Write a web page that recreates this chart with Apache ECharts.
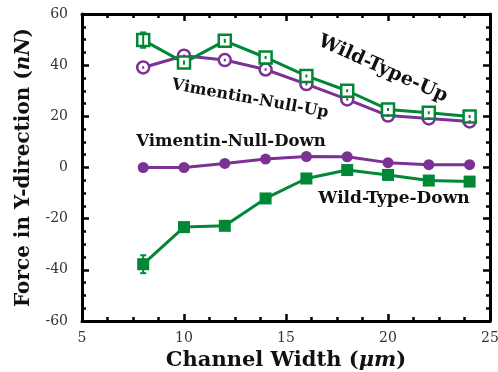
<!DOCTYPE html>
<html>
<head>
<meta charset="utf-8">
<script src="https://cdn.jsdelivr.net/npm/echarts@6/dist/echarts.min.js"></script>
<style>
  html, body { margin: 0; padding: 0; background: #fff; }
  #main { width: 498px; height: 372px; }
</style>
</head>
<body>
<div id="main"></div>
<script>
// channel widths (um)
var widths = [8, 10, 12, 14, 16, 18, 20, 22, 24];
// forces (nN)
var wildTypeUp = [49.8, 41.0, 49.5, 43.0, 35.8, 30.0, 22.7, 21.4, 19.9];
var wildTypeUpErr = [3.0, 0.8, 0.8, 0.6, 0.6, 0.6, 0.6, 0.6, 0.6];
var vimNullUp = [39.1, 43.7, 42.0, 38.3, 32.6, 26.6, 20.3, 19.2, 18.0];
var vimNullUpErr = [0.5, 0.5, 0.5, 0.5, 0.5, 0.5, 0.5, 0.5, 0.5];
var vimNullDown = [0.0, 0.0, 1.6, 3.3, 4.3, 4.2, 1.9, 1.1, 1.1];
var wildTypeDown = [-37.8, -23.3, -22.8, -12.1, -4.3, -1.0, -2.9, -5.1, -5.5];
var wildTypeDownErr = [3.5, 0.6, 0.6, 0.6, 0.5, 0.5, 0.5, 0.5, 0.5];

var green = '#008837', purple = '#7b3294';
var serif = '"DejaVu Serif", "Liberation Serif", serif';

function pairs(ys){
    var out = [];
    for (var i = 0; i < widths.length; i++) out.push([widths[i], ys[i]]);
    return out;
}
function errData(ys, es){
    var out = [];
    for (var i = 0; i < widths.length; i++) out.push([widths[i], ys[i] - es[i], ys[i] + es[i]]);
    return out;
}
//误差棒
function errSeries(ys, es, color){
    return {
        type: 'custom',
        z: 5,
        data: errData(ys, es),
        encode: { x: 0, y: [1, 2] },
        renderItem: function(params, api){
            var lo = api.coord([api.value(0), api.value(1)]);
            var hi = api.coord([api.value(0), api.value(2)]);
            var w = (lo[1] - hi[1]) > 8 ? 3 : 0;  //小误差不画帽
            var st = { stroke: color, lineWidth: 2 };
            return { type: 'group', children: [
                { type: 'line', shape: { x1: lo[0], y1: lo[1], x2: hi[0], y2: hi[1] }, style: st },
                { type: 'line', shape: { x1: lo[0]-w, y1: lo[1], x2: lo[0]+w, y2: lo[1] }, style: st },
                { type: 'line', shape: { x1: hi[0]-w, y1: hi[1], x2: hi[0]+w, y2: hi[1] }, style: st }
            ]};
        }
    };
}
function lineSeries(name, ys, color, symbol, size, hollow){
    return {
        name: name, type: 'line', data: pairs(ys),
        symbol: symbol, symbolSize: size, z: hollow ? 3 : 4,
        lineStyle: { color: color, width: 3 },
        itemStyle: { color: hollow ? '#fff' : color, borderColor: color, borderWidth: hollow ? 2.5 : 0 },
        emphasis: { disabled: true }
    };
}

var tickStyle = { show: true, inside: true, length: 7, lineStyle: { color: '#000', width: 2.5 } };
var minorStyle = { show: true, splitNumber: 4, length: 4, lineStyle: { color: '#000', width: 2.5 } };
var axisLine = { show: true, onZero: false, lineStyle: { color: '#000', width: 3 } };
var labelStyle = { fontFamily: serif, fontSize: 14, color: '#333' };

var myChart = echarts.init(document.getElementById('main'));
var option = {
    animation: false,
    grid: { left: 82, right: 8, top: 14, bottom: 51, outerBoundsMode: 'none' },
    xAxis: [{
        type: 'value', min: 5, max: 25, interval: 5,
        axisLine: axisLine, axisTick: tickStyle, minorTick: minorStyle,
        splitLine: { show: false }, minorSplitLine: { show: false },
        axisLabel: Object.assign({ margin: 10 }, labelStyle),
        name: '{b|Channel Width (}{i|μm}{b|)}', nameLocation: 'middle', nameGap: 27,
        nameTextStyle: { rich: {
            b: { fontFamily: serif, fontWeight: 'bold', fontSize: 21, color: '#111' },
            i: { fontFamily: serif, fontStyle: 'italic', fontWeight: 'bold', fontSize: 21, color: '#111' }
        } }
    }, {
        type: 'value', position: 'top', min: 5, max: 25, interval: 5,
        axisLine: axisLine, axisTick: tickStyle, minorTick: minorStyle,
        splitLine: { show: false }, axisLabel: { show: false }
    }],
    yAxis: [{
        type: 'value', min: -60, max: 60, interval: 20,
        axisLine: axisLine, axisTick: tickStyle, minorTick: minorStyle,
        splitLine: { show: false }, minorSplitLine: { show: false },
        axisLabel: Object.assign({ margin: 14 }, labelStyle),
        name: '{b|Force in Y-direction (}{i|nN}{b|)}', nameLocation: 'middle', nameGap: 48,
        nameTextStyle: { rich: {
            b: { fontFamily: serif, fontWeight: 'bold', fontSize: 20, color: '#111' },
            i: { fontFamily: serif, fontStyle: 'italic', fontWeight: 'bold', fontSize: 20, color: '#111' }
        } }
    }, {
        type: 'value', position: 'right', min: -60, max: 60, interval: 20,
        axisLine: axisLine, axisTick: tickStyle, minorTick: minorStyle,
        splitLine: { show: false }, axisLabel: { show: false }
    }],
    series: [
        lineSeries('Vimentin-Null-Up', vimNullUp, purple, 'circle', 12, true),
        lineSeries('Wild-Type-Up', wildTypeUp, green, 'rect', 12, true),
        lineSeries('Vimentin-Null-Down', vimNullDown, purple, 'circle', 11, false),
        lineSeries('Wild-Type-Down', wildTypeDown, green, 'rect', 12, false),
        errSeries(wildTypeUp, wildTypeUpErr, green),
        errSeries(vimNullUp, vimNullUpErr, purple),
        errSeries(wildTypeDown, wildTypeDownErr, green)
    ],
    graphic: [
        { type: 'text', x: 383, y: 69, rotation: -0.42, style: { text: 'Wild-Type-Up', font: 'bold 19px ' + serif, fill: '#111', align: 'center', verticalAlign: 'middle' } },
        { type: 'text', x: 250, y: 99, rotation: -0.18, style: { text: 'Vimentin-Null-Up', font: 'bold 16px ' + serif, fill: '#111', align: 'center', verticalAlign: 'middle' } },
        { type: 'text', x: 231, y: 142, style: { text: 'Vimentin-Null-Down', font: 'bold 16.5px ' + serif, fill: '#111', align: 'center', verticalAlign: 'middle' } },
        { type: 'text', x: 394, y: 199, style: { text: 'Wild-Type-Down', font: 'bold 17px ' + serif, fill: '#111', align: 'center', verticalAlign: 'middle' } }
    ]
};
myChart.setOption(option);
</script>
</body>
</html>
